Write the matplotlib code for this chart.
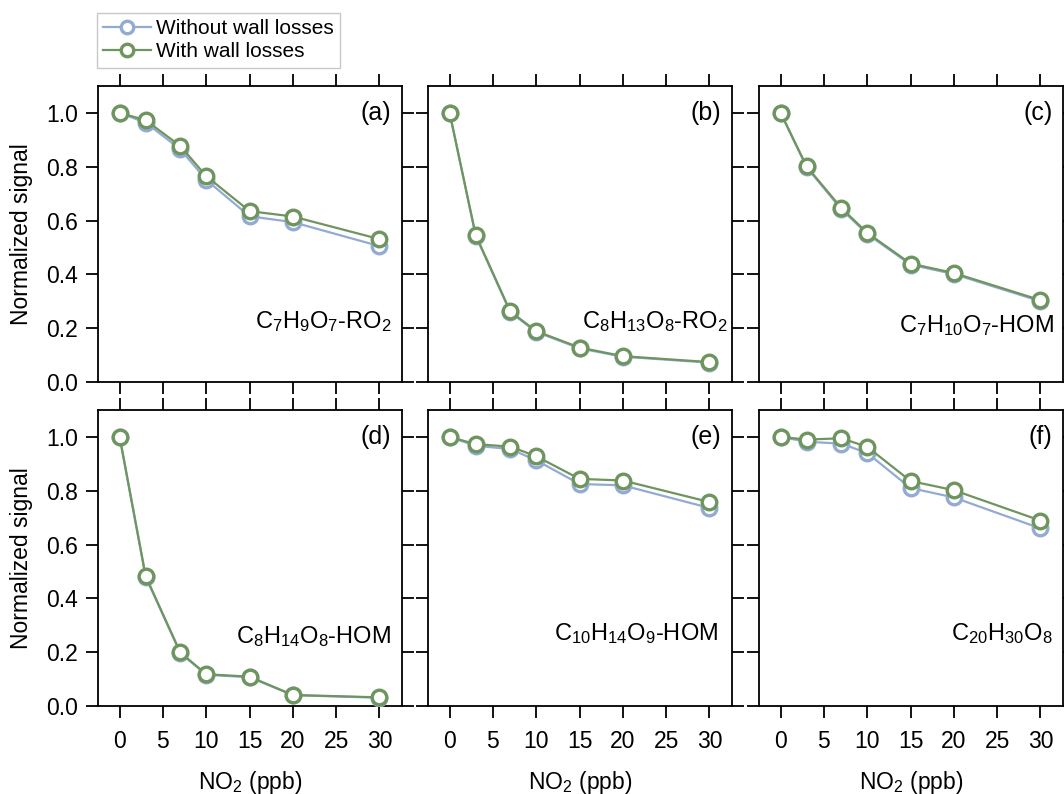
import matplotlib
matplotlib.use("Agg")
import matplotlib.pyplot as plt

plt.rcParams['font.family'] = ['Liberation Sans', 'DejaVu Sans']
plt.rcParams['mathtext.default'] = 'regular'

no2 = [0, 3, 7, 10, 15, 20, 30]

without_a = [1.0, 0.964, 0.865, 0.751, 0.616, 0.594, 0.505]
with_a    = [1.0, 0.973, 0.877, 0.765, 0.635, 0.615, 0.531]
without_b = [1.0, 0.544, 0.259, 0.186, 0.125, 0.094, 0.072]
with_b    = [1.0, 0.547, 0.262, 0.189, 0.128, 0.096, 0.074]
without_c = [1.0, 0.798, 0.642, 0.550, 0.436, 0.401, 0.300]
with_c    = [1.0, 0.801, 0.647, 0.554, 0.440, 0.405, 0.304]
without_d = [1.0, 0.480, 0.197, 0.116, 0.107, 0.040, 0.031]
with_d    = [1.0, 0.483, 0.199, 0.118, 0.109, 0.041, 0.032]
without_e = [1.0, 0.967, 0.955, 0.913, 0.825, 0.820, 0.736]
with_e    = [1.0, 0.973, 0.964, 0.928, 0.844, 0.838, 0.758]
without_f = [1.0, 0.982, 0.975, 0.940, 0.810, 0.775, 0.660]
with_f    = [1.0, 0.990, 0.995, 0.963, 0.836, 0.802, 0.689]

panel_tags = ['(a)', '(b)', '(c)', '(d)', '(e)', '(f)']
compounds = ['C$_7$H$_9$O$_7$-RO$_2$', 'C$_8$H$_{13}$O$_8$-RO$_2$', 'C$_7$H$_{10}$O$_7$-HOM',
             'C$_8$H$_{14}$O$_8$-HOM', 'C$_{10}$H$_{14}$O$_9$-HOM', 'C$_{20}$H$_{30}$O$_8$']
series_without = [without_a, without_b, without_c, without_d, without_e, without_f]
series_with = [with_a, with_b, with_c, with_d, with_e, with_f]
legend_labels = ['Without wall losses', 'With wall losses']
yticks = [0.0, 0.2, 0.4, 0.6, 0.8, 1.0]
xticks = [0, 5, 10, 15, 20, 25, 30]

blue = '#93abd3'
green = '#6f955f'

W, H = 1064, 794
fig = plt.figure(figsize=(W / 100, H / 100), dpi=100)

lefts = [98, 428, 759]
tops = [86, 410]
aw, ah = 304, 296
label_pos = [(0.965, 0.205), (0.985, 0.205), (0.97, 0.19),
             (0.965, 0.235), (0.955, 0.245), (0.965, 0.245)]

axes = []
for i in range(6):
    r, c = divmod(i, 3)
    ax = fig.add_axes([lefts[c] / W, (H - tops[r] - ah) / H, aw / W, ah / H])
    axes.append(ax)
    ax.plot(no2, series_without[i], '-o', color=blue, lw=1.6, ms=10.5,
            mfc='white', mec=blue, mew=2.4, label=legend_labels[0], zorder=3)
    ax.plot(no2, series_with[i], '-o', color=green, lw=1.6, ms=10.5,
            mfc='white', mec=green, mew=2.4, label=legend_labels[1], zorder=4)
    ax.set_xlim(-2.5, 32.6)
    ax.set_ylim(0, 1.1)
    ax.set_xticks(xticks)
    ax.set_yticks(yticks)
    ax.tick_params(direction='out', length=8.5, width=1.3, top=True, right=True,
                   labelsize=16.5, pad=6)
    ax.tick_params(axis='x', pad=9)
    for s in ax.spines.values():
        s.set_linewidth(1.3)
    if c == 0:
        ax.set_yticklabels([f'{v:.1f}' for v in yticks])
        ax.set_ylabel('Normalized signal', fontsize=16.5, labelpad=9)
    else:
        ax.set_yticklabels([])
    if r == 1:
        ax.set_xlabel('NO$_2$ (ppb)', fontsize=16.5, labelpad=11)
    else:
        ax.set_xticklabels([])
    ax.text(0.965, 0.91, panel_tags[i], transform=ax.transAxes, ha='right',
            va='center', fontsize=18)
    lx, ly = label_pos[i]
    ax.text(lx, ly, compounds[i], transform=ax.transAxes, ha='right',
            va='center', fontsize=17)

h, lab = axes[0].get_legend_handles_labels()
leg = fig.legend(h, lab, loc='upper left', bbox_to_anchor=(97 / W, 1 - 13 / H),
                 fontsize=15, frameon=True, fancybox=False, edgecolor='#bbbbbb',
                 borderpad=0.3, handlelength=2.3, handletextpad=0.25,
                 labelspacing=0.2, borderaxespad=0)
leg.get_frame().set_linewidth(1.0)
for lh in leg.get_lines():
    lh.set_markersize(9)

fig.savefig('out.png', dpi=100)
